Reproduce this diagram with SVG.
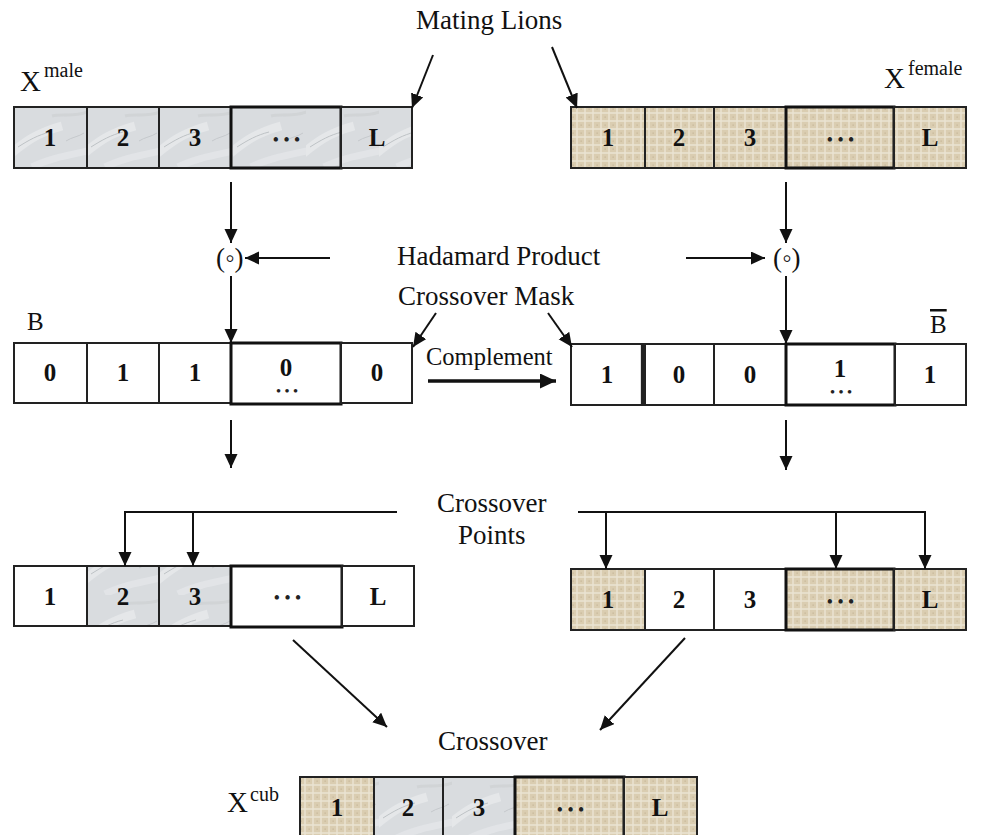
<svg xmlns="http://www.w3.org/2000/svg" width="983" height="835" viewBox="0 0 983 835">
<defs>
<style>
.lbl{font-family:"Liberation Serif","Times New Roman",serif;font-size:27px;fill:#111}
.sup{font-family:"Liberation Serif","Times New Roman",serif;font-size:20px;fill:#111}
.d{font-family:"Liberation Serif","Times New Roman",serif;font-size:25px;font-weight:bold;fill:#111;text-anchor:middle}
.dots{font-family:"Liberation Serif","Times New Roman",serif;font-size:16px;font-weight:bold;fill:#222;text-anchor:middle;letter-spacing:5px}
.c{stroke:#222;stroke-width:2;fill:none}
.cw{stroke:#222;stroke-width:2;fill:#fff}
.cg{stroke:#222;stroke-width:2;fill:url(#pg)}
.cb{stroke:#222;stroke-width:2;fill:url(#pb)}
.thick{stroke-width:3;stroke:#111}
.ar{stroke:#111;stroke-width:2;fill:none;marker-end:url(#ah)}
</style>
<marker id="ah" markerUnits="userSpaceOnUse" markerWidth="15" markerHeight="14" refX="14" refY="6.5" orient="auto">
<path d="M0,0 L14,6.5 L0,13 z" fill="#111"/>
</marker>
<marker id="ahb" markerUnits="userSpaceOnUse" markerWidth="17" markerHeight="16" refX="16" refY="7.5" orient="auto">
<path d="M0,0 L16,7.5 L0,15 z" fill="#111"/>
</marker>
<pattern id="pg" patternUnits="userSpaceOnUse" width="73" height="61" x="14" y="107">
<rect width="73" height="61" fill="#d9dcdf"/>
<path d="M-5,48 C10,36 22,26 48,19" stroke="#eceef0" stroke-width="9" fill="none" opacity=".6"/>
<path d="M4,40 C15,33 24,28 36,25" stroke="#b3b8bc" stroke-width="1" fill="none" opacity=".8"/>
<path d="M18,60 C34,52 50,49 74,44" stroke="#e8eaec" stroke-width="7" fill="none" opacity=".6"/>
<path d="M38,9 C50,6 60,11 76,4" stroke="#cdd0d3" stroke-width="3" fill="none" opacity=".7"/>
<path d="M52,34 C58,30 64,30 70,26" stroke="#bcc0c4" stroke-width="1" fill="none" opacity=".7"/>
</pattern>
<pattern id="pb" patternUnits="userSpaceOnUse" width="8" height="8">
<rect width="8" height="8" fill="#dacdb1"/>
<path d="M0,1H8M1,0V8" stroke="#ebe4d3" stroke-width="1.4"/>
<rect x="4.5" y="4.5" width="1.3" height="1.3" fill="#c8b898"/>
</pattern>
</defs>
<rect width="983" height="835" fill="#fff"/>

<g id="labels">
<text class="lbl" x="416" y="29">Mating Lions</text>
<text class="lbl" x="20" y="91" style="font-size:29px">X</text><text class="sup" x="44" y="77">male</text>
<text class="lbl" x="884" y="88" style="font-size:29px">X</text><text class="sup" x="908" y="75">female</text>
<text class="lbl" x="216" y="267">(◦)</text>
<text class="lbl" x="773" y="267">(◦)</text>
<text class="lbl" x="397" y="265">Hadamard Product</text>
<text class="lbl" x="398" y="305">Crossover Mask</text>
<text class="lbl" x="27" y="330" style="font-size:25px">B</text>
<text class="lbl" x="930" y="333" style="font-size:25px;text-decoration:overline">B</text>
<text class="lbl" x="426" y="365" style="font-size:24.5px">Complement</text>
<text class="lbl" x="437" y="512">Crossover</text>
<text class="lbl" x="458" y="544">Points</text>
<text class="lbl" x="438" y="750">Crossover</text>
<text class="lbl" x="227" y="812" style="font-size:29px">X</text><text class="sup" x="250" y="801">cub</text>
</g>

<g id="row-male">
<rect class="cg" x="14" y="107" width="73" height="61"/>
<rect class="cg" x="87" y="107" width="72" height="61"/>
<rect class="cg" x="159" y="107" width="72" height="61"/>
<rect class="cg thick" x="231" y="107" width="110" height="61"/>
<rect class="cg" x="341" y="107" width="71" height="61"/>
<text class="d" x="50" y="146">1</text><text class="d" x="123" y="146">2</text><text class="d" x="195" y="146">3</text>
<text class="dots" x="289" y="145">•••</text><text class="d" x="377" y="146">L</text>
</g>

<g id="row-female">
<rect class="cb" x="571" y="107" width="74" height="61"/>
<rect class="cb" x="645" y="107" width="69" height="61"/>
<rect class="cb" x="714" y="107" width="72" height="61"/>
<rect class="cb thick" x="786" y="107" width="108" height="61"/>
<rect class="cb" x="894" y="107" width="72" height="61"/>
<text class="d" x="608" y="146">1</text><text class="d" x="679" y="146">2</text><text class="d" x="750" y="146">3</text>
<text class="dots" x="843" y="145">•••</text><text class="d" x="930" y="146">L</text>
</g>

<g id="row-B">
<rect class="cw" x="14" y="343" width="73" height="60"/>
<rect class="cw" x="87" y="343" width="72" height="60"/>
<rect class="cw" x="159" y="343" width="72" height="60"/>
<rect class="cw thick" x="231" y="343" width="110" height="61"/>
<rect class="cw" x="341" y="343" width="71" height="60"/>
<text class="d" x="50" y="381">0</text><text class="d" x="123" y="381">1</text><text class="d" x="195" y="381">1</text>
<text class="d" x="286" y="376">0</text><text class="dots" x="289" y="395" style="font-size:13px;letter-spacing:4px">•••</text>
<text class="d" x="377" y="381">0</text>
</g>

<g id="row-Bbar">
<rect class="cw" x="571" y="344" width="72" height="61"/>
<rect class="cw" x="645" y="344" width="69" height="61"/>
<line class="c" x1="641.5" y1="344" x2="641.5" y2="405" style="stroke-width:1.3"/>
<rect class="cw" x="714" y="344" width="72" height="61"/>
<rect class="cw thick" x="786" y="344" width="109" height="61"/>
<rect class="cw" x="895" y="344" width="71" height="61"/>
<text class="d" x="607" y="383">1</text><text class="d" x="679" y="383">0</text><text class="d" x="750" y="383">0</text>
<text class="d" x="840" y="377">1</text><text class="dots" x="843" y="396" style="font-size:13px;letter-spacing:4px">•••</text>
<text class="d" x="930" y="383">1</text>
</g>

<g id="row-child-left">
<rect class="cw" x="14" y="566" width="73" height="60"/>
<rect class="cg" x="87" y="566" width="72" height="60"/>
<rect class="cg" x="159" y="566" width="72" height="60"/>
<rect class="cw thick" x="231" y="566" width="111" height="61"/>
<rect class="cw" x="342" y="566" width="72" height="60"/>
<text class="d" x="50" y="605">1</text><text class="d" x="123" y="605">2</text><text class="d" x="195" y="605">3</text>
<text class="dots" x="290" y="603">•••</text><text class="d" x="378" y="605">L</text>
</g>

<g id="row-child-right">
<rect class="cb" x="571" y="569" width="74" height="61"/>
<rect class="cw" x="645" y="569" width="69" height="61"/>
<rect class="cw" x="714" y="569" width="72" height="61"/>
<rect class="cb thick" x="786" y="569" width="108" height="61"/>
<rect class="cb" x="894" y="569" width="72" height="61"/>
<text class="d" x="608" y="608">1</text><text class="d" x="679" y="608">2</text><text class="d" x="750" y="608">3</text>
<text class="dots" x="843" y="607">•••</text><text class="d" x="930" y="608">L</text>
</g>

<g id="row-cub">
<rect class="cb" x="300" y="777" width="74" height="61"/>
<rect class="cg" x="374" y="777" width="69" height="61"/>
<rect class="cg" x="443" y="777" width="72" height="61"/>
<rect class="cb thick" x="515" y="777" width="109" height="61"/>
<rect class="cb" x="624" y="777" width="73" height="61"/>
<text class="d" x="337" y="816">1</text><text class="d" x="408" y="816">2</text><text class="d" x="479" y="816">3</text>
<text class="dots" x="573" y="815">•••</text><text class="d" x="660" y="816">L</text>
</g>

<g id="connectors">
<line class="ar" x1="433" y1="55" x2="412" y2="108"/>
<line class="ar" x1="552" y1="47" x2="577" y2="108"/>
<line class="ar" x1="231" y1="182" x2="231" y2="243"/>
<line class="ar" x1="786" y1="182" x2="786" y2="243"/>
<line class="ar" x1="330" y1="258" x2="245" y2="258"/>
<line class="ar" x1="686" y1="258" x2="765" y2="258"/>
<line class="ar" x1="231" y1="276" x2="231" y2="343"/>
<line class="ar" x1="786" y1="276" x2="786" y2="344"/>
<line class="ar" x1="436" y1="313" x2="413" y2="347"/>
<line class="ar" x1="548" y1="313" x2="572" y2="347"/>
<line x1="428" y1="381" x2="556" y2="381" style="stroke:#111;stroke-width:3.5;marker-end:url(#ahb)"/>
<line class="ar" x1="231" y1="420" x2="231" y2="468"/>
<line class="ar" x1="786" y1="420" x2="786" y2="470"/>
<polyline class="ar" points="397,512 125,512 125,566"/>
<line class="ar" x1="193" y1="512" x2="193" y2="566"/>
<polyline class="ar" points="578,512 925,512 925,569"/>
<line class="ar" x1="606" y1="512" x2="606" y2="569"/>
<line class="ar" x1="836" y1="512" x2="836" y2="569"/>
<line class="ar" x1="293" y1="640" x2="387" y2="727"/>
<line class="ar" x1="685" y1="638" x2="600" y2="730"/>
</g>
</svg>
